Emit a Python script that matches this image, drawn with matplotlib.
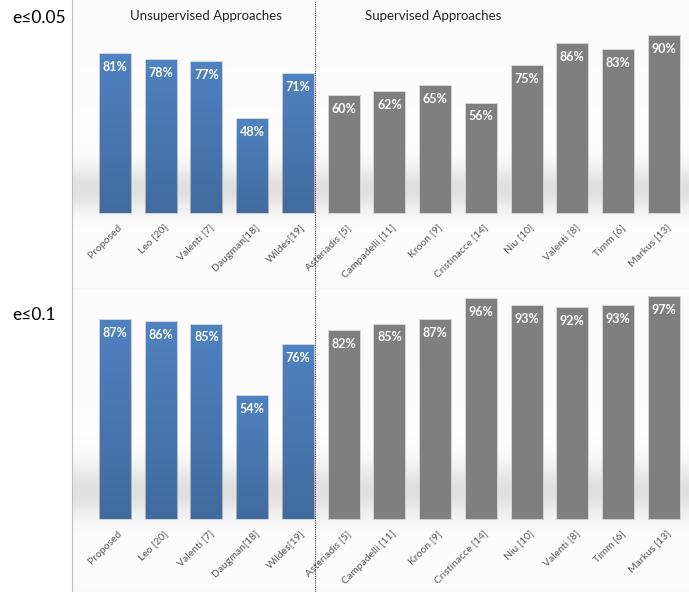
import numpy as np
import matplotlib.pyplot as plt
from matplotlib.colors import LinearSegmentedColormap

plt.rcParams['font.family'] = ['Lato', 'DejaVu Sans']

methods = ['Proposed', 'Leo [20]', 'Valenti [7]', 'Daugman[18]', 'Wildes[19]',
           'Asteriadis [5]', 'Campadelli [11]', 'Kroon [9]', 'Cristinacce [14]',
           'Niu [10]', 'Valenti [8]', 'Timm [6]', 'Markus [13]']
n_unsupervised = 5
acc_005 = [81, 78, 77, 48, 71, 60, 62, 65, 56, 75, 86, 83, 90]
acc_01 = [87, 86, 85, 54, 76, 82, 85, 87, 96, 93, 92, 93, 97]

blue = '#4f82c0'
gray = '#7f7f7f'
colors = [blue] * n_unsupervised + [gray] * (len(methods) - n_unsupervised)

fig = plt.figure(figsize=(6.89, 5.92), dpi=100)
ax1 = fig.add_axes([72 / 689, 1 - 289 / 592, 617 / 689, 289 / 592])
ax2 = fig.add_axes([72 / 689, 0, 617 / 689, 303 / 592])

shade = LinearSegmentedColormap.from_list('shade', ['#ffffff', '#c8c8c8'])


def draw_panel(ax, values, ylim):
    x = np.arange(len(values))
    ax.set_xlim(-0.94, 12.55)
    ax.set_ylim(*ylim)

    # soft shadow band behind the bars, like the office 3d style
    yy = np.linspace(ylim[0], ylim[1], 300)
    prof = (np.exp(-((yy - 12) / 12) ** 2) * 0.55
            + np.clip(yy / ylim[1], 0, 1) * 0.08
            + np.clip(-yy / 40, 0, 1) * 0.1)
    ax.imshow(prof[:, None], extent=[-0.94, 12.55, ylim[0], ylim[1]],
              origin='lower', aspect='auto', cmap=shade, vmin=0, vmax=1, zorder=0)

    bars = ax.bar(x, values, width=0.7, color=colors, edgecolor='#d9d9d9',
                  linewidth=0.6, zorder=2)
    # blue bars get darker towards the bottom
    grad = np.zeros((100, 1, 4))
    grad[:, 0, 3] = np.linspace(0.18, 0.0, 100)
    for b in bars[:n_unsupervised]:
        im = ax.imshow(grad, extent=[b.get_x(), b.get_x() + b.get_width(), 0, b.get_height()],
                       origin='lower', aspect='auto', zorder=2.1)
        im.set_clip_path(b)

    for b, v in zip(bars, values):
        ax.annotate('{}%'.format(v), (b.get_x() + b.get_width() / 2, v),
                    xytext=(0, -10), textcoords='offset points', ha='center',
                    va='center', color='white', fontsize=9, fontweight='bold',
                    zorder=3)

    # category labels sit just under the bar baseline
    for i, name in enumerate(methods):
        ax.annotate(name, (i + 0.05, 0), xytext=(0, -7), textcoords='offset points',
                    rotation=45, ha='right', va='top', rotation_mode='anchor',
                    fontsize=7.5, color='#595959', zorder=3)

    ax.set_xticks([])
    ax.set_yticks([])
    ax.set_xlim(-0.94, 12.55)
    ax.set_ylim(*ylim)
    for s in ['top', 'right']:
        ax.spines[s].set_visible(False)
    ax.spines['left'].set_color('#bfbfbf')
    ax.spines['bottom'].set_color('#d0d0d0')
    ax.axvline(4.37, color='#404040', linestyle=(0, (1, 1)), linewidth=0.8, zorder=4)


draw_panel(ax1, acc_005, (-38.6, 108))
draw_panel(ax2, acc_01, (-31.7, 100))
ax2.spines['bottom'].set_visible(False)

ax1.text(2.0, 100, 'Unsupervised Approaches', ha='center', va='center',
         fontsize=9.5, color='#262626')
ax1.text(6.95, 100, 'Supervised Approaches', ha='center', va='center',
         fontsize=9.5, color='#262626')

fig.text(12 / 689, 1 - 18 / 592, 'e≤0.05', fontsize=12.5, va='center', ha='left')
fig.text(12 / 689, 1 - 315 / 592, 'e≤0.1', fontsize=12.5, va='center', ha='left')

fig.savefig('out.png', dpi=100)
